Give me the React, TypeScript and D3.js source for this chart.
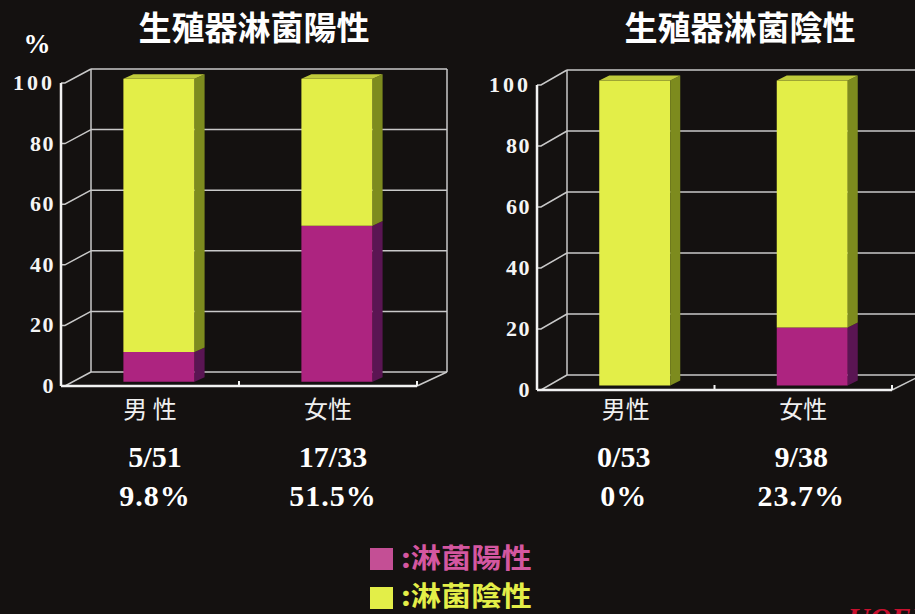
import React from "react";
import * as d3 from "d3";

const categories = ["男性", "女性"];
const leftLabels = ["男 性", "女性"];
const rightLabels = ["男性", "女性"];
const leftPositive = [9.8, 51.5];
const rightPositive = [0, 19];
const leftCounts = ["5/51", "17/33"];
const leftPct = ["9.8%", "51.5%"];
const rightCounts = ["0/53", "9/38"];
const rightPct = ["0%", "23.7%"];
const yTicks = [0, 20, 40, 60, 80, 100];
const titles = ["生殖器淋菌陽性", "生殖器淋菌陰性"];
const legendItems = [":淋菌陽性", ":淋菌陰性"];

const W = 915;
const H = 614;

const C = {
  bg: "#141110",
  yFront: "#e3ee48",
  ySide: "#7d8b1e",
  yTop: "#c0cb3b",
  mFront: "#ad2480",
  mSide: "#5a1553",
  grid: "#c9c9c9",
  axis: "#f2f2f2",
  legendM: "#c44f95",
  legendMText: "#d457a0",
  legendY: "#e3ee48",
};

type ChartProps = {
  x0: number;
  x1: number;
  yBottom: number;
  yTop: number;
  DX: number;
  DY: number;
  positive: number[];
  labels: string[];
  counts: string[];
  pct: string[];
  textOffset: number;
};

function Chart(p: ChartProps) {
  const y = d3.scaleLinear().domain([0, 100]).range([p.yBottom, p.yTop]);
  const x = d3
    .scaleBand<string>()
    .domain(categories)
    .range([p.x0, p.x1])
    .paddingInner(0.6)
    .paddingOuter(0.3);
  const step = x.step();
  const bw = x.bandwidth();
  const proj = (xx: number, v: number, d: number): [number, number] => [
    xx + d * p.DX,
    y(v) - d * p.DY,
  ];
  const df = 0.3;
  const db = df + 10 / p.DX;
  const pts = (arr: [number, number][]) => arr.map((a) => a.join(",")).join(" ");
  const bx0 = p.x0 + p.DX;
  const bx1 = p.x1 + p.DX;

  const segs = (pos: number) => [
    { a: 0, b: pos, front: C.mFront, side: C.mSide },
    { a: pos, b: 100, front: C.yFront, side: C.ySide },
  ];

  return (
    <g>
      {yTicks.map((t) => (
        <line key={"bg" + t} x1={bx0} x2={bx1} y1={y(t) - p.DY} y2={y(t) - p.DY} stroke={C.grid} strokeWidth={1.5} />
      ))}
      <line x1={bx0} x2={bx0} y1={y(0) - p.DY} y2={y(100) - p.DY} stroke={C.grid} strokeWidth={1.5} />
      <line x1={bx1} x2={bx1} y1={y(0) - p.DY} y2={y(100) - p.DY} stroke={C.grid} strokeWidth={1.5} />
      {yTicks.map((t) => (
        <polyline
          key={"ob" + t}
          points={pts([
            [p.x0, y(t)],
            [p.x0 + 4, y(t)],
            [bx0, y(t) - p.DY],
          ])}
          fill="none"
          stroke={C.grid}
          strokeWidth={1.5}
        />
      ))}
      <line x1={p.x1} y1={y(0)} x2={bx1} y2={y(0) - p.DY} stroke={C.grid} strokeWidth={1.5} />
      {categories.map((c, i) => {
        const xl = x(c) as number;
        const xr = xl + bw;
        return (
          <g key={c}>
            {segs(p.positive[i]).map((s, j) =>
              s.b - s.a <= 0 ? null : (
                <g key={j}>
                  <polygon
                    points={pts([proj(xl, s.a, df), proj(xr, s.a, df), proj(xr, s.b, df), proj(xl, s.b, df)])}
                    fill={s.front}
                  />
                  <polygon
                    points={pts([proj(xr, s.a, df), proj(xr, s.a, db), proj(xr, s.b, db), proj(xr, s.b, df)])}
                    fill={s.side}
                  />
                </g>
              )
            )}
            <polygon
              points={pts([proj(xl, 100, df), proj(xr, 100, df), proj(xr, 100, db), proj(xl, 100, db)])}
              fill={C.yTop}
            />
          </g>
        );
      })}
      <line x1={p.x0} x2={p.x0} y1={y(0)} y2={y(100)} stroke={C.axis} strokeWidth={2.5} />
      <line x1={p.x0} x2={p.x1} y1={y(0)} y2={y(0)} stroke={C.axis} strokeWidth={2.5} />
      {[p.x0 + step, p.x1].map((tx, k) => (
        <line key={"tk" + k} x1={tx} x2={tx} y1={y(0)} y2={y(0) - 5} stroke={C.axis} strokeWidth={2} />
      ))}
      {yTicks.map((t) => (
        <text
          key={"tl" + t}
          x={p.x0 - 6}
          y={y(t) + 7}
          textAnchor="end"
          fill="#f4f4f4"
          fontFamily="'Liberation Serif', serif"
          fontWeight="bold"
          fontSize={22}
          letterSpacing={t === 100 ? 3 : 1.5}
        >
          {t}
        </text>
      ))}
      {categories.map((c, i) => {
        const cx = (x(c) as number) + bw / 2;
        return (
          <g key={"lab" + c}>
            <text
              x={cx}
              y={418}
              textAnchor="middle"
              fill="#f0f0f0"
              fontFamily="'Noto Sans CJK JP', sans-serif"
              fontSize={24}
              fontWeight={400}
            >
              {p.labels[i]}
            </text>
            <text
              x={cx + p.textOffset}
              y={467}
              textAnchor="middle"
              fill="#ffffff"
              fontFamily="'Liberation Serif', serif"
              fontWeight="bold"
              fontSize={30}
            >
              {p.counts[i]}
            </text>
            <text
              x={cx + p.textOffset}
              y={506}
              textAnchor="middle"
              fill="#ffffff"
              fontFamily="'Liberation Serif', serif"
              fontWeight="bold"
              fontSize={30}
              letterSpacing={1}
            >
              {p.pct[i]}
            </text>
          </g>
        );
      })}
    </g>
  );
}

export default function App() {
  return (
    <svg width={W} height={H} style={{ position: "absolute", left: 0, top: 0, display: "block" }}>
      <rect x={0} y={0} width={W} height={H} fill={C.bg} />
      <text x={254} y={40} textAnchor="middle" fill="#ffffff" fontFamily="'Noto Sans CJK JP', sans-serif" fontWeight="bold" fontSize={33}>
        {titles[0]}
      </text>
      <text x={740} y={40} textAnchor="middle" fill="#ffffff" fontFamily="'Noto Sans CJK JP', sans-serif" fontWeight="bold" fontSize={33}>
        {titles[1]}
      </text>
      <text x={37} y={53} textAnchor="middle" fill="#ffffff" fontFamily="'Liberation Serif', serif" fontWeight="bold" fontSize={27}>
        %
      </text>
      <Chart x0={61} x1={417} yBottom={386} yTop={83} DX={30} DY={14} positive={leftPositive} labels={leftLabels} counts={leftCounts} pct={leftPct} textOffset={5} />
      <Chart x0={537} x1={892} yBottom={390} yTop={85} DX={30} DY={15} positive={rightPositive} labels={rightLabels} counts={rightCounts} pct={rightPct} textOffset={-2} />
      <rect x={370} y={548} width={23} height={22} fill={C.legendM} />
      <rect x={370} y={587} width={23} height={22} fill={C.legendY} />
      <g transform="translate(401,568) scale(1.12,1)">
        <text x={0} y={0} fill={C.legendMText} fontFamily="'Noto Sans CJK JP', sans-serif" fontWeight="bold" fontSize={27}>
          {legendItems[0]}
        </text>
      </g>
      <g transform="translate(401,606) scale(1.12,1)">
        <text x={0} y={0} fill={C.legendY} fontFamily="'Noto Sans CJK JP', sans-serif" fontWeight="bold" fontSize={27}>
          {legendItems[1]}
        </text>
      </g>
      <text x={848} y={628} fill="#c8102e" fontFamily="'Liberation Serif', serif" fontStyle="italic" fontWeight="bold" fontSize={30}>
        UOEH
      </text>
    </svg>
  );
}
